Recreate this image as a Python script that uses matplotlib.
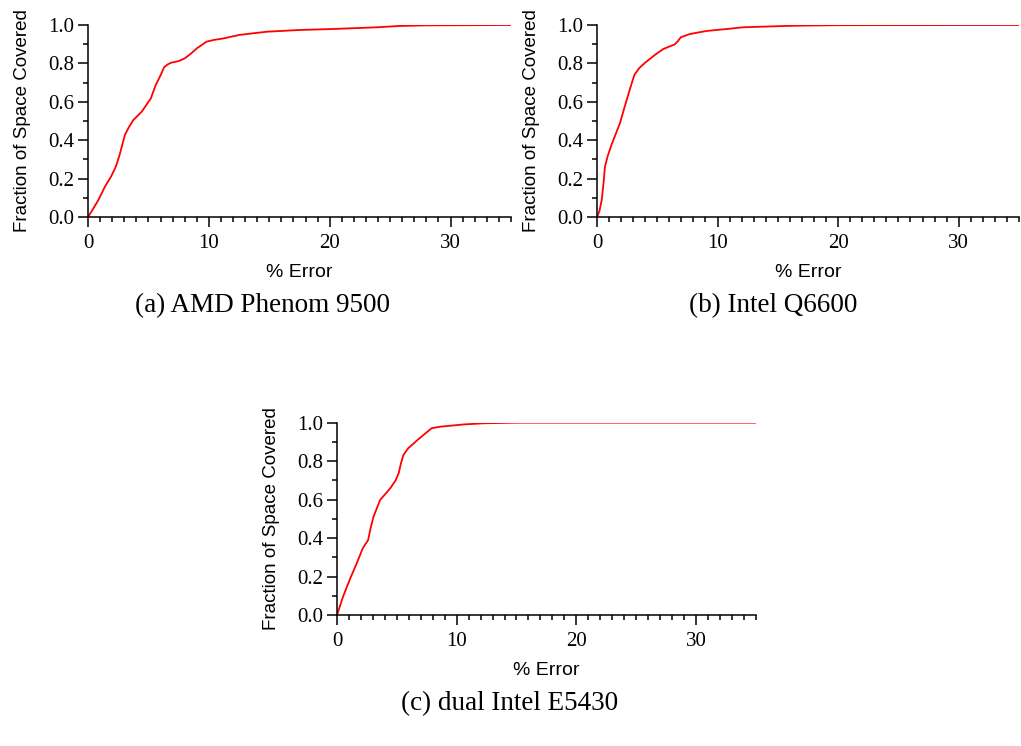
import matplotlib.pyplot as plt
from matplotlib.ticker import MultipleLocator

# CDF of prediction error for each machine
amd_err = [0, 0.4, 0.85, 1.4, 1.9, 2.3, 2.6, 3.05, 3.4, 3.75, 4.45, 5.2, 5.6, 5.95, 6.3,
           6.6, 6.9, 7.5, 8.0, 8.5, 9.0, 9.8, 10.4, 11.2, 12.5, 13.7, 14.8, 17.5, 20.2,
           23.9, 25.8, 28.0, 35.0]
amd_frac = [0, 0.04, 0.088, 0.158, 0.21, 0.262, 0.32, 0.427, 0.47, 0.505, 0.549, 0.618,
            0.687, 0.731, 0.78, 0.795, 0.804, 0.812, 0.826, 0.85, 0.878, 0.913, 0.922,
            0.930, 0.948, 0.957, 0.965, 0.974, 0.979, 0.988, 0.995, 0.998, 1.0]

q6600_err = [0, 0.2, 0.39, 0.55, 0.66, 0.9, 1.2, 1.9, 2.3, 2.75, 3.1, 3.5, 4.0, 4.8, 5.5,
             6.45, 6.7, 6.95, 7.7, 9.1, 10.75, 12.1, 16.2, 20.0, 35.0]
q6600_frac = [0, 0.03, 0.088, 0.18, 0.262, 0.32, 0.375, 0.488, 0.575, 0.67, 0.74, 0.775,
              0.804, 0.844, 0.875, 0.899, 0.915, 0.936, 0.953, 0.969, 0.979, 0.988, 0.996,
              0.999, 1.0]

e5430_err = [0, 0.5, 1.1, 1.65, 2.15, 2.6, 2.8, 3.05, 3.6, 4.45, 4.9, 5.15, 5.35, 5.55,
             5.95, 6.8, 7.9, 8.6, 10.6, 12.3, 15.0, 35.0]
e5430_frac = [0, 0.095, 0.19, 0.269, 0.347, 0.39, 0.45, 0.511, 0.598, 0.659, 0.70, 0.737,
              0.79, 0.832, 0.867, 0.914, 0.971, 0.979, 0.991, 0.997, 1.0, 1.0]

captions = ["(a) AMD Phenom 9500", "(b) Intel Q6600", "(c) dual Intel E5430"]

serif = "Liberation Serif"
sans = "Liberation Sans"


def cdf_panel(ax, err, frac):
    ax.plot(err, frac, color="red", lw=1.3)
    ax.set_xlim(0, 35)
    ax.set_ylim(0, 1.0)
    ax.xaxis.set_major_locator(MultipleLocator(10))
    ax.xaxis.set_minor_locator(MultipleLocator(1))
    ax.yaxis.set_major_locator(MultipleLocator(0.2))
    ax.yaxis.set_minor_locator(MultipleLocator(0.1))
    ax.yaxis.set_major_formatter(plt.FuncFormatter(lambda v, p: f"{v:.1f}"))
    for side in ("top", "right"):
        ax.spines[side].set_visible(False)
    for side in ("left", "bottom"):
        ax.spines[side].set_linewidth(1.1)
        ax.spines[side].set_clip_on(False)
    ax.tick_params(which="major", length=7, width=1.1, labelsize=15)
    ax.tick_params(which="minor", length=3.5, width=1.1)
    ax.tick_params(axis="x", which="major", pad=5)
    ax.tick_params(axis="y", which="major", pad=3)
    for lbl in ax.get_xticklabels() + ax.get_yticklabels():
        lbl.set_fontfamily(serif)
    ax.set_xlabel("% Error", fontfamily=sans, fontsize=14, labelpad=8)
    ax.set_ylabel("Fraction of Space Covered", fontfamily=sans, fontsize=13.5, labelpad=12)


fig = plt.figure(figsize=(10.21, 7.46), dpi=100)

ax_a = fig.add_axes([0.0862, 0.7091, 0.4143, 0.2574])
ax_b = fig.add_axes([0.5847, 0.7091, 0.4133, 0.2574])
ax_c = fig.add_axes([0.3301, 0.1756, 0.4101, 0.2578])

cdf_panel(ax_a, amd_err, amd_frac)
cdf_panel(ax_b, q6600_err, q6600_frac)
cdf_panel(ax_c, e5430_err, e5430_frac)

fig.text(262 / 1021, 1 - 306 / 746, captions[0], ha="center", va="center",
         fontfamily=serif, fontsize=19.5)
fig.text(773 / 1021, 1 - 306 / 746, captions[1], ha="center", va="center",
         fontfamily=serif, fontsize=19.5)
fig.text(510 / 1021, 1 - 704 / 746, captions[2], ha="center", va="center",
         fontfamily=serif, fontsize=19.5)

fig.savefig("out.png", dpi=100)
